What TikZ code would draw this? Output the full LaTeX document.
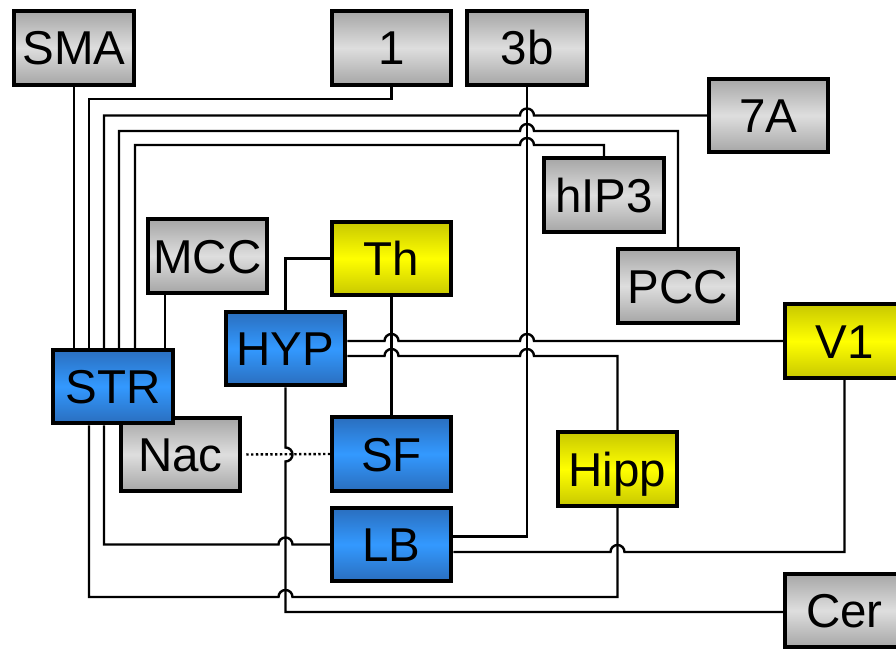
\documentclass[tikz,border=0pt]{standalone}
\usepackage{fontspec}
\setmainfont{Liberation Sans}
\usetikzlibrary{calc}
\definecolor{greyEdge}{HTML}{A6A6A6}
\definecolor{greyMid}{HTML}{DEDEDE}
\definecolor{blueEdge}{HTML}{2A6EBE}
\definecolor{blueMid}{HTML}{3399FF}
\definecolor{yellowEdge}{HTML}{C8C800}
\definecolor{yellowMid}{HTML}{FFFF00}
\begin{document}
\begin{tikzpicture}[x=1pt,y=-1pt,
  box/.style={draw=black, line width=4pt, minimum width=119.5pt, minimum height=73.5pt,
    inner sep=0pt, font=\fontsize{47.5}{50}\selectfont, text height=34pt, text depth=0pt},
  greybox/.style={box, top color=greyEdge, bottom color=greyEdge, middle color=greyMid},
  bluebox/.style={box, top color=blueEdge, bottom color=blueEdge, middle color=blueMid},
  yellowbox/.style={box, top color=yellowEdge, bottom color=yellowEdge, middle color=yellowMid},
  wire/.style={line width=2.4pt, draw=black, line join=miter},
  dotwire/.style={wire, dash pattern=on 2.4pt off 2.4pt},
]
\useasboundingbox (0,0) rectangle (896,650);
\clip (0,0) rectangle (896,650);

% cortical and subcortical regions
\node[greybox]   (sma)  at (74,48)      {SMA};
\node[greybox]   (n1)   at (391.5,48)   {1};
\node[greybox]   (n3b)  at (527,48)     {3b};
\node[greybox]   (n7a)  at (768.5,115.5){7A};
\node[greybox]   (hip3) at (604,195)    {hIP3};
\node[greybox]   (pcc)  at (678,286)    {PCC};
\node[yellowbox] (v1)   at (844.5,341)  {V1};
\node[greybox]   (cer)  at (844.5,610.5){Cer};
\node[greybox]   (mcc)  at (207.5,256)  {MCC};
\node[yellowbox] (th)   at (391.5,258.5){Th};
\node[bluebox]   (hyp)  at (285.5,348.5){HYP};
\node[greybox]   (nac)  at (180.5,454.5){Nac};
\node[bluebox]   (str)  at (113,386.5)  {STR};
\node[bluebox]   (sf)   at (391.5,454)  {SF};
\node[bluebox]   (lb)   at (391.5,544.5){LB};
\node[yellowbox] (hipp) at (617.5,469)  {Hipp};

% inputs converging on STR from above
\draw[wire] (sma.south) -- (sma.south |- str.north);
\draw[wire] (n1.south) -- (n1.south |- 0,99) -- (89,99) -- (89,0 |- str.north);
\draw[wire] (n7a.west) -- ($(n3b.south |- n7a.west)+(7,0)$)
  arc[start angle=0,end angle=180,radius=7pt] -- (104,0 |- n7a.west) -- (104,0 |- str.north);
\draw[wire] (pcc.north) -- (pcc.north |- 0,131) -- ($(n3b.south |- 0,131)+(7,0)$)
  arc[start angle=0,end angle=180,radius=7pt] -- (119,131) -- (119,0 |- str.north);
\draw[wire] (hip3.north) -- (hip3.north |- 0,145) -- ($(n3b.south |- 0,145)+(7,0)$)
  arc[start angle=0,end angle=180,radius=7pt] -- (135,145) -- (135,0 |- str.north);
\draw[wire] (mcc.south -| 165,0) -- (str.north -| 165,0);

% 3b down to LB
\draw[wire] (n3b.south) -- ($(n3b.south |- lb.east)+(0,-8)$) -- ($(lb.east)+(0,-8)$);

% thalamus links
\draw[wire] (th.west) -| (hyp.north);
\draw[wire] (th.south) -- (sf.north);

% HYP to V1 and Hipp
\draw[wire] ($(hyp.east)+(0,-7.5)$) -- ($(th.south |- v1.west)+(-7,0)$)
  arc[start angle=180,end angle=0,radius=7pt] -- ($(n3b.south |- v1.west)+(-7,0)$)
  arc[start angle=180,end angle=0,radius=7pt] -- (v1.west);
\draw[wire] ($(hyp.east)+(0,7.5)$) -- ($(th.south |- hyp.east)+(-7,7.5)$)
  arc[start angle=180,end angle=0,radius=7pt] -- ($(n3b.south |- hyp.east)+(-7,7.5)$)
  arc[start angle=180,end angle=0,radius=7pt] -- ($(hipp.north |- hyp.east)+(0,7.5)$) -- (hipp.north);

% HYP down to Cer
\draw[wire] (hyp.south) -- ($(hyp.south |- nac.east)+(0,-7)$)
  arc[start angle=90,end angle=-90,radius=7pt] -- (hyp.south |- 0,612) -- (cer.west |- 0,612);

% V1 down to LB
\draw[wire] (v1.south) -- ($(v1.south |- lb.east)+(0,7.5)$) -- ($(hipp.south |- lb.east)+(7,7.5)$)
  arc[start angle=0,end angle=180,radius=7pt] -- ($(lb.east)+(0,7.5)$);

% STR outputs below
\draw[wire] (89,0 |- str.south) -- (89,597) -- ($(hyp.south |- 0,597)+(-7,0)$)
  arc[start angle=180,end angle=0,radius=7pt] -- (hipp.south |- 0,597) -- (hipp.south);
\draw[wire] (104,0 |- str.south) -- (104,0 |- lb.west) -- ($(hyp.south |- lb.west)+(-7,0)$)
  arc[start angle=180,end angle=0,radius=7pt] -- (lb.west);

% Nac to SF
\draw[dotwire] ($(nac.east)+(4,0)$) -- (sf.west);
\end{tikzpicture}
\end{document}
